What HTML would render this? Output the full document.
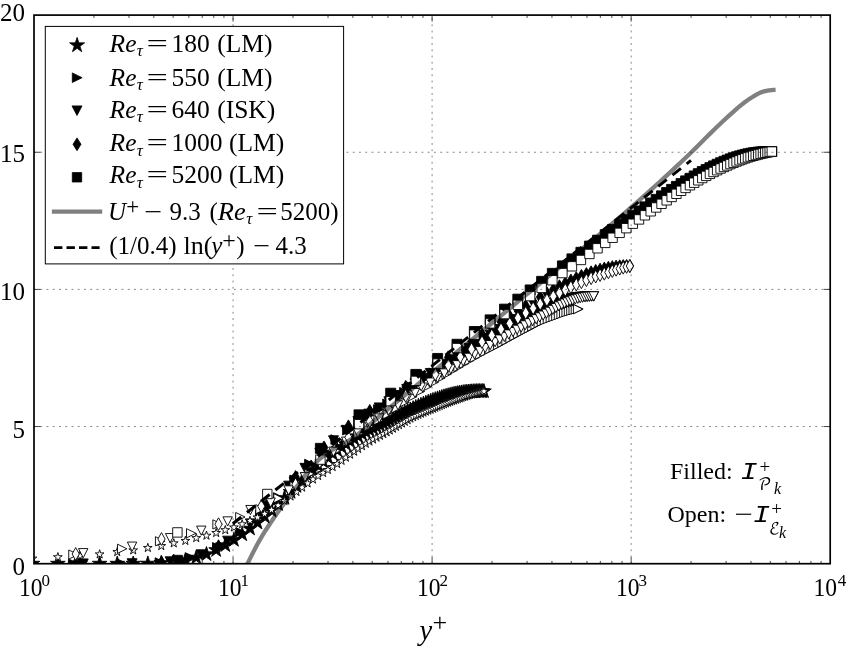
<!DOCTYPE html>
<html lang="en"><head><meta charset="utf-8"><title>Integrated production and dissipation</title>
<style>html,body{margin:0;padding:0;background:#fff}svg{display:block}</style></head>
<body>
<svg width="846" height="648" viewBox="0 0 846 648">
<rect width="846" height="648" fill="#fff"/>
<defs><clipPath id="ax"><rect x="34" y="15.1" width="796.2" height="548.6"/></clipPath><path id="f0" d="M0 -7.7L1.73 -2.38L7.32 -2.38L2.8 0.91L4.53 6.23L0 2.94L-4.53 6.23L-2.8 0.91L-7.32 -2.38L-1.73 -2.38Z"/><path id="o0" d="M0 -4.6L1.03 -1.42L4.37 -1.42L1.67 0.54L2.7 3.72L0 1.76L-2.7 3.72L-1.67 0.54L-4.37 -1.42L-1.03 -1.42Z"/><path id="f1" d="M-5 -4.8L5 0L-5 4.8Z"/><path id="o1" d="M-4.7 -4.6L4.7 0L-4.7 4.6Z"/><path id="f2" d="M-5 -4.8L5 -4.8L0 4.8Z"/><path id="o2" d="M-4.7 -4.6L4.7 -4.6L0 4.6Z"/><path id="f3" d="M0 -6.5L3.8 0L0 6.5L-3.8 0Z"/><path id="o3" d="M0 -6.4L3.6 0L0 6.4L-3.6 0Z"/><path id="f4" d="M-5 -5L5 -5L5 5L-5 5Z"/><path id="o4" d="M-4.7 -4.7L4.7 -4.7L4.7 4.7L-4.7 4.7Z"/></defs>
<g clip-path="url(#ax)">
<g fill="#000" stroke="#000" stroke-width="0.9"><use href="#f0" x="32.47" y="563.7"/><use href="#f0" x="57.89" y="563.7"/><use href="#f0" x="80.03" y="563.7"/><use href="#f0" x="99.65" y="563.7"/><use href="#f0" x="117.25" y="563.7"/><use href="#f0" x="133.22" y="563.7"/><use href="#f0" x="147.83" y="563.62"/><use href="#f0" x="161.28" y="563.01"/><use href="#f0" x="173.76" y="561.91"/><use href="#f0" x="185.38" y="560.16"/><use href="#f0" x="196.26" y="557.62"/><use href="#f0" x="206.48" y="554.25"/><use href="#f0" x="216.13" y="550.09"/><use href="#f0" x="225.25" y="545.25"/><use href="#f0" x="233.9" y="539.95"/><use href="#f0" x="242.13" y="534.37"/><use href="#f0" x="249.98" y="528.6"/><use href="#f0" x="257.47" y="522.69"/><use href="#f0" x="264.64" y="516.62"/><use href="#f0" x="271.52" y="510.44"/><use href="#f0" x="278.12" y="504.22"/><use href="#f0" x="284.47" y="498.05"/><use href="#f0" x="290.58" y="491.99"/><use href="#f0" x="296.47" y="486.12"/><use href="#f0" x="302.15" y="480.5"/><use href="#f0" x="307.64" y="475.19"/><use href="#f0" x="312.96" y="470.23"/><use href="#f0" x="318.1" y="465.67"/><use href="#f0" x="323.08" y="461.45"/><use href="#f0" x="327.91" y="457.44"/><use href="#f0" x="332.6" y="453.7"/><use href="#f0" x="337.16" y="450.26"/><use href="#f0" x="341.58" y="447.09"/><use href="#f0" x="345.88" y="444.13"/><use href="#f0" x="350.07" y="441.37"/><use href="#f0" x="354.15" y="438.75"/><use href="#f0" x="358.12" y="436.26"/><use href="#f0" x="361.99" y="433.94"/><use href="#f0" x="365.77" y="431.87"/><use href="#f0" x="369.45" y="430"/><use href="#f0" x="373.05" y="428.28"/><use href="#f0" x="376.56" y="426.64"/><use href="#f0" x="379.98" y="425.06"/><use href="#f0" x="383.34" y="423.48"/><use href="#f0" x="386.61" y="421.9"/><use href="#f0" x="389.81" y="420.26"/><use href="#f0" x="392.95" y="418.6"/><use href="#f0" x="396.01" y="416.98"/><use href="#f0" x="399.01" y="415.4"/><use href="#f0" x="401.95" y="413.88"/><use href="#f0" x="404.83" y="412.42"/><use href="#f0" x="407.65" y="411.01"/><use href="#f0" x="410.41" y="409.67"/><use href="#f0" x="413.12" y="408.38"/><use href="#f0" x="415.77" y="407.16"/><use href="#f0" x="418.38" y="405.99"/><use href="#f0" x="420.93" y="404.89"/><use href="#f0" x="423.43" y="403.84"/><use href="#f0" x="425.89" y="402.84"/><use href="#f0" x="428.3" y="401.89"/><use href="#f0" x="430.66" y="400.99"/><use href="#f0" x="432.99" y="400.14"/><use href="#f0" x="435.27" y="399.33"/><use href="#f0" x="437.51" y="398.57"/><use href="#f0" x="439.7" y="397.86"/><use href="#f0" x="441.86" y="397.19"/><use href="#f0" x="443.98" y="396.56"/><use href="#f0" x="446.07" y="395.97"/><use href="#f0" x="448.12" y="395.42"/><use href="#f0" x="450.13" y="394.91"/><use href="#f0" x="452.11" y="394.43"/><use href="#f0" x="454.05" y="394"/><use href="#f0" x="455.96" y="393.6"/><use href="#f0" x="457.84" y="393.23"/><use href="#f0" x="459.68" y="392.9"/><use href="#f0" x="461.5" y="392.6"/><use href="#f0" x="463.28" y="392.34"/><use href="#f0" x="465.04" y="392.11"/><use href="#f0" x="466.76" y="391.91"/><use href="#f0" x="468.46" y="391.75"/><use href="#f0" x="470.13" y="391.61"/><use href="#f0" x="471.77" y="391.5"/><use href="#f0" x="473.38" y="391.41"/><use href="#f0" x="474.97" y="391.34"/><use href="#f0" x="476.53" y="391.3"/><use href="#f0" x="478.07" y="391.27"/><use href="#f0" x="479.58" y="391.27"/><use href="#f0" x="481.07" y="391.27"/><use href="#f0" x="482.53" y="391.29"/><use href="#f0" x="483.96" y="391.31"/><use href="#f1" x="73.45" y="563.7"/><use href="#f1" x="122.18" y="563.68"/><use href="#f1" x="160.13" y="562.55"/><use href="#f1" x="191.21" y="557.87"/><use href="#f1" x="217.53" y="547.31"/><use href="#f1" x="240.34" y="532.16"/><use href="#f1" x="260.46" y="515.28"/><use href="#f1" x="278.47" y="497.46"/><use href="#f1" x="294.74" y="479.93"/><use href="#f1" x="309.6" y="464.04"/><use href="#f1" x="323.25" y="450.78"/><use href="#f1" x="335.88" y="439.52"/><use href="#f1" x="347.62" y="430.16"/><use href="#f1" x="358.6" y="422.02"/><use href="#f1" x="368.89" y="415.19"/><use href="#f1" x="378.58" y="409.43"/><use href="#f1" x="387.72" y="403.82"/><use href="#f1" x="396.39" y="397.94"/><use href="#f1" x="404.61" y="392.3"/><use href="#f1" x="412.44" y="386.97"/><use href="#f1" x="419.9" y="381.99"/><use href="#f1" x="427.03" y="377.31"/><use href="#f1" x="433.85" y="372.89"/><use href="#f1" x="440.38" y="368.69"/><use href="#f1" x="446.65" y="364.7"/><use href="#f1" x="452.68" y="360.9"/><use href="#f1" x="458.48" y="357.26"/><use href="#f1" x="464.06" y="353.81"/><use href="#f1" x="469.44" y="350.53"/><use href="#f1" x="474.64" y="347.41"/><use href="#f1" x="479.65" y="344.45"/><use href="#f1" x="484.5" y="341.63"/><use href="#f1" x="489.19" y="338.96"/><use href="#f1" x="493.73" y="336.42"/><use href="#f1" x="498.13" y="334.02"/><use href="#f1" x="502.4" y="331.73"/><use href="#f1" x="506.53" y="329.57"/><use href="#f1" x="510.54" y="327.53"/><use href="#f1" x="514.44" y="325.6"/><use href="#f1" x="518.22" y="323.8"/><use href="#f1" x="521.9" y="322.12"/><use href="#f1" x="525.47" y="320.56"/><use href="#f1" x="528.95" y="319.12"/><use href="#f1" x="532.33" y="317.79"/><use href="#f1" x="535.62" y="316.57"/><use href="#f1" x="538.82" y="315.46"/><use href="#f1" x="541.94" y="314.45"/><use href="#f1" x="544.97" y="313.54"/><use href="#f1" x="547.93" y="312.73"/><use href="#f1" x="550.81" y="312.01"/><use href="#f1" x="553.62" y="311.38"/><use href="#f1" x="556.35" y="310.84"/><use href="#f1" x="559.02" y="310.38"/><use href="#f1" x="561.62" y="310"/><use href="#f1" x="564.16" y="309.69"/><use href="#f1" x="566.63" y="309.45"/><use href="#f1" x="569.04" y="309.28"/><use href="#f1" x="571.39" y="309.15"/><use href="#f1" x="573.69" y="309.08"/><use href="#f1" x="575.93" y="309.04"/><use href="#f1" x="578.11" y="309.03"/><use href="#f2" x="83.22" y="563.7"/><use href="#f2" x="132.09" y="563.54"/><use href="#f2" x="170.13" y="561.6"/><use href="#f2" x="201.27" y="554.61"/><use href="#f2" x="227.63" y="540.96"/><use href="#f2" x="250.47" y="523.69"/><use href="#f2" x="270.62" y="505.01"/><use href="#f2" x="288.65" y="485.93"/><use href="#f2" x="304.95" y="468.15"/><use href="#f2" x="319.82" y="453.1"/><use href="#f2" x="333.49" y="440.57"/><use href="#f2" x="346.14" y="430.22"/><use href="#f2" x="357.9" y="421.36"/><use href="#f2" x="368.88" y="413.92"/><use href="#f2" x="379.19" y="407.71"/><use href="#f2" x="388.89" y="401.6"/><use href="#f2" x="398.05" y="395.26"/><use href="#f2" x="406.73" y="389.21"/><use href="#f2" x="414.97" y="383.53"/><use href="#f2" x="422.81" y="378.24"/><use href="#f2" x="430.29" y="373.25"/><use href="#f2" x="437.43" y="368.54"/><use href="#f2" x="444.26" y="364.06"/><use href="#f2" x="450.81" y="359.79"/><use href="#f2" x="457.1" y="355.7"/><use href="#f2" x="463.14" y="351.81"/><use href="#f2" x="468.95" y="348.1"/><use href="#f2" x="474.55" y="344.58"/><use href="#f2" x="479.95" y="341.22"/><use href="#f2" x="485.16" y="338.02"/><use href="#f2" x="490.2" y="334.96"/><use href="#f2" x="495.07" y="332.05"/><use href="#f2" x="499.78" y="329.27"/><use href="#f2" x="504.34" y="326.62"/><use href="#f2" x="508.75" y="324.09"/><use href="#f2" x="513.04" y="321.68"/><use href="#f2" x="517.19" y="319.4"/><use href="#f2" x="521.23" y="317.25"/><use href="#f2" x="525.14" y="315.23"/><use href="#f2" x="528.95" y="313.33"/><use href="#f2" x="532.65" y="311.55"/><use href="#f2" x="536.24" y="309.88"/><use href="#f2" x="539.74" y="308.33"/><use href="#f2" x="543.15" y="306.89"/><use href="#f2" x="546.46" y="305.56"/><use href="#f2" x="549.69" y="304.33"/><use href="#f2" x="552.83" y="303.21"/><use href="#f2" x="555.89" y="302.18"/><use href="#f2" x="558.87" y="301.26"/><use href="#f2" x="561.78" y="300.42"/><use href="#f2" x="564.62" y="299.68"/><use href="#f2" x="567.38" y="299.03"/><use href="#f2" x="570.08" y="298.45"/><use href="#f2" x="572.71" y="297.96"/><use href="#f2" x="575.27" y="297.55"/><use href="#f2" x="577.78" y="297.21"/><use href="#f2" x="580.22" y="296.93"/><use href="#f2" x="582.6" y="296.72"/><use href="#f2" x="584.93" y="296.56"/><use href="#f2" x="587.2" y="296.45"/><use href="#f2" x="589.41" y="296.39"/><use href="#f2" x="591.58" y="296.37"/><use href="#f2" x="593.69" y="296.36"/><use href="#f3" x="75.7" y="563.7"/><use href="#f3" x="161.49" y="562.32"/><use href="#f3" x="218.53" y="546.22"/><use href="#f3" x="261.31" y="513.27"/><use href="#f3" x="295.53" y="477.12"/><use href="#f3" x="324.03" y="447.48"/><use href="#f3" x="348.44" y="426.41"/><use href="#f3" x="369.78" y="411"/><use href="#f3" x="388.72" y="399.03"/><use href="#f3" x="405.73" y="386.89"/><use href="#f3" x="421.17" y="376"/><use href="#f3" x="435.29" y="366.26"/><use href="#f3" x="448.28" y="357.37"/><use href="#f3" x="460.31" y="349.15"/><use href="#f3" x="471.51" y="341.56"/><use href="#f3" x="481.97" y="334.54"/><use href="#f3" x="491.77" y="328"/><use href="#f3" x="501" y="321.9"/><use href="#f3" x="509.7" y="316.19"/><use href="#f3" x="517.93" y="310.85"/><use href="#f3" x="525.73" y="305.9"/><use href="#f3" x="533.14" y="301.32"/><use href="#f3" x="540.18" y="297.08"/><use href="#f3" x="546.9" y="293.18"/><use href="#f3" x="553.3" y="289.59"/><use href="#f3" x="559.42" y="286.31"/><use href="#f3" x="565.28" y="283.32"/><use href="#f3" x="570.89" y="280.61"/><use href="#f3" x="576.26" y="278.17"/><use href="#f3" x="581.41" y="275.98"/><use href="#f3" x="586.36" y="274.05"/><use href="#f3" x="591.12" y="272.36"/><use href="#f3" x="595.69" y="270.9"/><use href="#f3" x="600.08" y="269.66"/><use href="#f3" x="604.31" y="268.62"/><use href="#f3" x="608.38" y="267.79"/><use href="#f3" x="612.3" y="267.13"/><use href="#f3" x="616.08" y="266.64"/><use href="#f3" x="619.72" y="266.3"/><use href="#f3" x="623.22" y="266.09"/><use href="#f3" x="626.6" y="265.99"/><use href="#f3" x="629.86" y="265.97"/><use href="#f4" x="177.4" y="560.32"/><use href="#f4" x="267.3" y="506.08"/><use href="#f4" x="320.4" y="448.37"/><use href="#f4" x="359" y="414.85"/><use href="#f4" x="390.7" y="393.22"/><use href="#f4" x="415.84" y="374.42"/><use href="#f4" x="437.65" y="358.44"/><use href="#f4" x="457" y="344.28"/><use href="#f4" x="474.37" y="331.5"/><use href="#f4" x="490.13" y="319.87"/><use href="#f4" x="504.55" y="309.15"/><use href="#f4" x="517.84" y="299.17"/><use href="#f4" x="530.15" y="289.94"/><use href="#f4" x="541.63" y="281.36"/><use href="#f4" x="552.36" y="273.37"/><use href="#f4" x="562.44" y="265.9"/><use href="#f4" x="571.94" y="258.89"/><use href="#f4" x="580.93" y="252.3"/><use href="#f4" x="589.44" y="246.09"/><use href="#f4" x="597.53" y="240.22"/><use href="#f4" x="605.24" y="234.67"/><use href="#f4" x="612.59" y="229.42"/><use href="#f4" x="619.61" y="224.44"/><use href="#f4" x="626.34" y="219.71"/><use href="#f4" x="632.79" y="215.22"/><use href="#f4" x="638.99" y="210.95"/><use href="#f4" x="644.94" y="206.89"/><use href="#f4" x="650.67" y="203.03"/><use href="#f4" x="656.2" y="199.36"/><use href="#f4" x="661.52" y="195.87"/><use href="#f4" x="666.67" y="192.55"/><use href="#f4" x="671.64" y="189.4"/><use href="#f4" x="676.44" y="186.42"/><use href="#f4" x="681.09" y="183.58"/><use href="#f4" x="685.6" y="180.9"/><use href="#f4" x="689.96" y="178.35"/><use href="#f4" x="694.2" y="175.95"/><use href="#f4" x="698.3" y="173.69"/><use href="#f4" x="702.29" y="171.56"/><use href="#f4" x="706.16" y="169.55"/><use href="#f4" x="709.92" y="167.67"/><use href="#f4" x="713.57" y="165.92"/><use href="#f4" x="717.13" y="164.28"/><use href="#f4" x="720.59" y="162.76"/><use href="#f4" x="723.95" y="161.35"/><use href="#f4" x="727.23" y="160.05"/><use href="#f4" x="730.42" y="158.86"/><use href="#f4" x="733.52" y="157.78"/><use href="#f4" x="736.55" y="156.79"/><use href="#f4" x="739.5" y="155.91"/><use href="#f4" x="742.37" y="155.12"/><use href="#f4" x="745.18" y="154.42"/><use href="#f4" x="747.91" y="153.81"/><use href="#f4" x="750.57" y="153.28"/><use href="#f4" x="753.17" y="152.83"/><use href="#f4" x="755.71" y="152.46"/><use href="#f4" x="758.18" y="152.16"/><use href="#f4" x="760.59" y="151.92"/><use href="#f4" x="762.95" y="151.75"/><use href="#f4" x="765.24" y="151.63"/><use href="#f4" x="767.49" y="151.56"/><use href="#f4" x="769.67" y="151.52"/><use href="#f4" x="771.81" y="151.52"/></g>
<g fill="#fff" stroke="#000" stroke-width="0.9"><use href="#o0" x="32.47" y="558.56"/><use href="#o0" x="57.89" y="557.15"/><use href="#o0" x="80.03" y="555.84"/><use href="#o0" x="99.65" y="554.32"/><use href="#o0" x="117.25" y="552.03"/><use href="#o0" x="133.22" y="550.34"/><use href="#o0" x="147.83" y="547.89"/><use href="#o0" x="161.28" y="546"/><use href="#o0" x="173.76" y="543.27"/><use href="#o0" x="185.38" y="540.87"/><use href="#o0" x="196.26" y="538.05"/><use href="#o0" x="206.48" y="535.61"/><use href="#o0" x="216.13" y="532.95"/><use href="#o0" x="225.25" y="530.1"/><use href="#o0" x="233.9" y="527.37"/><use href="#o0" x="242.13" y="524.2"/><use href="#o0" x="249.98" y="520.82"/><use href="#o0" x="257.47" y="517.41"/><use href="#o0" x="264.64" y="513.84"/><use href="#o0" x="271.52" y="509.88"/><use href="#o0" x="278.12" y="505.49"/><use href="#o0" x="284.47" y="500.96"/><use href="#o0" x="290.58" y="496.4"/><use href="#o0" x="296.47" y="491.89"/><use href="#o0" x="302.15" y="487.52"/><use href="#o0" x="307.64" y="483.36"/><use href="#o0" x="312.96" y="479.47"/><use href="#o0" x="318.1" y="475.97"/><use href="#o0" x="323.08" y="472.9"/><use href="#o0" x="327.91" y="469.93"/><use href="#o0" x="332.6" y="466.98"/><use href="#o0" x="337.16" y="463.95"/><use href="#o0" x="341.58" y="460.77"/><use href="#o0" x="345.88" y="457.65"/><use href="#o0" x="350.07" y="454.63"/><use href="#o0" x="354.15" y="451.69"/><use href="#o0" x="358.12" y="448.84"/><use href="#o0" x="361.99" y="446.15"/><use href="#o0" x="365.77" y="443.72"/><use href="#o0" x="369.45" y="441.51"/><use href="#o0" x="373.05" y="439.48"/><use href="#o0" x="376.56" y="437.6"/><use href="#o0" x="379.98" y="435.81"/><use href="#o0" x="383.34" y="434.04"/><use href="#o0" x="386.61" y="432.28"/><use href="#o0" x="389.81" y="430.47"/><use href="#o0" x="392.95" y="428.64"/><use href="#o0" x="396.01" y="426.85"/><use href="#o0" x="399.01" y="425.11"/><use href="#o0" x="401.95" y="423.41"/><use href="#o0" x="404.83" y="421.73"/><use href="#o0" x="407.65" y="420.1"/><use href="#o0" x="410.41" y="418.57"/><use href="#o0" x="413.12" y="417.17"/><use href="#o0" x="415.77" y="415.93"/><use href="#o0" x="418.38" y="414.77"/><use href="#o0" x="420.93" y="413.67"/><use href="#o0" x="423.43" y="412.61"/><use href="#o0" x="425.89" y="411.6"/><use href="#o0" x="428.3" y="410.59"/><use href="#o0" x="430.66" y="409.59"/><use href="#o0" x="432.99" y="408.64"/><use href="#o0" x="435.27" y="407.72"/><use href="#o0" x="437.51" y="406.81"/><use href="#o0" x="439.7" y="405.92"/><use href="#o0" x="441.86" y="405.05"/><use href="#o0" x="443.98" y="404.21"/><use href="#o0" x="446.07" y="403.39"/><use href="#o0" x="448.12" y="402.6"/><use href="#o0" x="450.13" y="401.84"/><use href="#o0" x="452.11" y="401.11"/><use href="#o0" x="454.05" y="400.41"/><use href="#o0" x="455.96" y="399.75"/><use href="#o0" x="457.84" y="399.08"/><use href="#o0" x="459.68" y="398.42"/><use href="#o0" x="461.5" y="397.77"/><use href="#o0" x="463.28" y="397.14"/><use href="#o0" x="465.04" y="396.53"/><use href="#o0" x="466.76" y="395.95"/><use href="#o0" x="468.46" y="395.4"/><use href="#o0" x="470.13" y="394.89"/><use href="#o0" x="471.77" y="394.41"/><use href="#o0" x="473.38" y="393.96"/><use href="#o0" x="474.97" y="393.54"/><use href="#o0" x="476.53" y="393.14"/><use href="#o0" x="478.07" y="392.76"/><use href="#o0" x="479.58" y="392.39"/><use href="#o0" x="481.07" y="392.04"/><use href="#o0" x="482.53" y="391.69"/><use href="#o0" x="483.96" y="391.36"/><use href="#o1" x="73.45" y="554.55"/><use href="#o1" x="122.18" y="548.78"/><use href="#o1" x="160.13" y="541.28"/><use href="#o1" x="191.21" y="533.26"/><use href="#o1" x="217.53" y="524.4"/><use href="#o1" x="240.34" y="517.04"/><use href="#o1" x="260.46" y="509.19"/><use href="#o1" x="278.47" y="498.24"/><use href="#o1" x="294.74" y="486.17"/><use href="#o1" x="309.6" y="473.87"/><use href="#o1" x="323.25" y="461.59"/><use href="#o1" x="335.88" y="450.8"/><use href="#o1" x="347.62" y="441.65"/><use href="#o1" x="358.6" y="433.48"/><use href="#o1" x="368.89" y="426.33"/><use href="#o1" x="378.58" y="420.17"/><use href="#o1" x="387.72" y="414.24"/><use href="#o1" x="396.39" y="408.1"/><use href="#o1" x="404.61" y="402.18"/><use href="#o1" x="412.44" y="396.61"/><use href="#o1" x="419.9" y="391.45"/><use href="#o1" x="427.03" y="386.66"/><use href="#o1" x="433.85" y="382.21"/><use href="#o1" x="440.38" y="378.06"/><use href="#o1" x="446.65" y="374.15"/><use href="#o1" x="452.68" y="370.46"/><use href="#o1" x="458.48" y="366.95"/><use href="#o1" x="464.06" y="363.63"/><use href="#o1" x="469.44" y="360.5"/><use href="#o1" x="474.64" y="357.53"/><use href="#o1" x="479.65" y="354.71"/><use href="#o1" x="484.5" y="352.04"/><use href="#o1" x="489.19" y="349.55"/><use href="#o1" x="493.73" y="347.25"/><use href="#o1" x="498.13" y="344.98"/><use href="#o1" x="502.4" y="342.66"/><use href="#o1" x="506.53" y="340.35"/><use href="#o1" x="510.54" y="338.11"/><use href="#o1" x="514.44" y="335.98"/><use href="#o1" x="518.22" y="333.94"/><use href="#o1" x="521.9" y="331.97"/><use href="#o1" x="525.47" y="330.09"/><use href="#o1" x="528.95" y="328.28"/><use href="#o1" x="532.33" y="326.46"/><use href="#o1" x="535.62" y="324.69"/><use href="#o1" x="538.82" y="323.04"/><use href="#o1" x="541.94" y="321.54"/><use href="#o1" x="544.97" y="320.23"/><use href="#o1" x="547.93" y="319.06"/><use href="#o1" x="550.81" y="317.98"/><use href="#o1" x="553.62" y="316.97"/><use href="#o1" x="556.35" y="315.99"/><use href="#o1" x="559.02" y="315"/><use href="#o1" x="561.62" y="314.02"/><use href="#o1" x="564.16" y="313.08"/><use href="#o1" x="566.63" y="312.21"/><use href="#o1" x="569.04" y="311.43"/><use href="#o1" x="571.39" y="310.76"/><use href="#o1" x="573.69" y="310.15"/><use href="#o1" x="575.93" y="309.6"/><use href="#o1" x="578.11" y="309.09"/><use href="#o2" x="83.22" y="553.19"/><use href="#o2" x="132.09" y="546.65"/><use href="#o2" x="170.13" y="538.15"/><use href="#o2" x="201.27" y="530.67"/><use href="#o2" x="227.63" y="521.44"/><use href="#o2" x="250.47" y="510.04"/><use href="#o2" x="270.62" y="502.57"/><use href="#o2" x="288.65" y="490.43"/><use href="#o2" x="304.95" y="477.2"/><use href="#o2" x="319.82" y="463.75"/><use href="#o2" x="333.49" y="451.77"/><use href="#o2" x="346.14" y="441.7"/><use href="#o2" x="357.9" y="432.83"/><use href="#o2" x="368.88" y="425.07"/><use href="#o2" x="379.19" y="418.43"/><use href="#o2" x="388.89" y="411.99"/><use href="#o2" x="398.05" y="405.36"/><use href="#o2" x="406.73" y="399.03"/><use href="#o2" x="414.97" y="393.11"/><use href="#o2" x="422.81" y="387.64"/><use href="#o2" x="430.29" y="382.58"/><use href="#o2" x="437.43" y="377.88"/><use href="#o2" x="444.26" y="373.45"/><use href="#o2" x="450.81" y="369.25"/><use href="#o2" x="457.1" y="365.26"/><use href="#o2" x="463.14" y="361.47"/><use href="#o2" x="468.95" y="357.87"/><use href="#o2" x="474.55" y="354.45"/><use href="#o2" x="479.95" y="351.19"/><use href="#o2" x="485.16" y="348.07"/><use href="#o2" x="490.2" y="345.09"/><use href="#o2" x="495.07" y="342.24"/><use href="#o2" x="499.78" y="339.54"/><use href="#o2" x="504.34" y="336.95"/><use href="#o2" x="508.75" y="334.48"/><use href="#o2" x="513.04" y="332.1"/><use href="#o2" x="517.19" y="329.8"/><use href="#o2" x="521.23" y="327.56"/><use href="#o2" x="525.14" y="325.36"/><use href="#o2" x="528.95" y="323.24"/><use href="#o2" x="532.65" y="321.21"/><use href="#o2" x="536.24" y="319.27"/><use href="#o2" x="539.74" y="317.42"/><use href="#o2" x="543.15" y="315.61"/><use href="#o2" x="546.46" y="313.71"/><use href="#o2" x="549.69" y="311.79"/><use href="#o2" x="552.83" y="309.91"/><use href="#o2" x="555.89" y="308.11"/><use href="#o2" x="558.87" y="306.44"/><use href="#o2" x="561.78" y="304.92"/><use href="#o2" x="564.62" y="303.59"/><use href="#o2" x="567.38" y="302.41"/><use href="#o2" x="570.08" y="301.34"/><use href="#o2" x="572.71" y="300.37"/><use href="#o2" x="575.27" y="299.52"/><use href="#o2" x="577.78" y="298.8"/><use href="#o2" x="580.22" y="298.21"/><use href="#o2" x="582.6" y="297.71"/><use href="#o2" x="584.93" y="297.3"/><use href="#o2" x="587.2" y="296.96"/><use href="#o2" x="589.41" y="296.7"/><use href="#o2" x="591.58" y="296.5"/><use href="#o2" x="593.69" y="296.36"/><use href="#o3" x="75.7" y="553.99"/><use href="#o3" x="161.49" y="539"/><use href="#o3" x="218.53" y="524.19"/><use href="#o3" x="261.31" y="506.28"/><use href="#o3" x="295.53" y="484.32"/><use href="#o3" x="324.03" y="458.45"/><use href="#o3" x="348.44" y="437.38"/><use href="#o3" x="369.78" y="421.46"/><use href="#o3" x="388.72" y="408.6"/><use href="#o3" x="405.73" y="395.86"/><use href="#o3" x="421.17" y="384.48"/><use href="#o3" x="435.29" y="374.42"/><use href="#o3" x="448.28" y="365.32"/><use href="#o3" x="460.31" y="356.93"/><use href="#o3" x="471.51" y="349.2"/><use href="#o3" x="481.97" y="342.06"/><use href="#o3" x="491.77" y="335.41"/><use href="#o3" x="501" y="329.2"/><use href="#o3" x="509.7" y="323.39"/><use href="#o3" x="517.93" y="317.97"/><use href="#o3" x="525.73" y="312.94"/><use href="#o3" x="533.14" y="308.28"/><use href="#o3" x="540.18" y="303.97"/><use href="#o3" x="546.9" y="300"/><use href="#o3" x="553.3" y="296.35"/><use href="#o3" x="559.42" y="293.01"/><use href="#o3" x="565.28" y="289.94"/><use href="#o3" x="570.89" y="287.14"/><use href="#o3" x="576.26" y="284.58"/><use href="#o3" x="581.41" y="282.25"/><use href="#o3" x="586.36" y="280.15"/><use href="#o3" x="591.12" y="278.26"/><use href="#o3" x="595.69" y="276.57"/><use href="#o3" x="600.08" y="275.07"/><use href="#o3" x="604.31" y="273.75"/><use href="#o3" x="608.38" y="272.4"/><use href="#o3" x="612.3" y="271.06"/><use href="#o3" x="616.08" y="269.79"/><use href="#o3" x="619.72" y="268.67"/><use href="#o3" x="623.22" y="267.73"/><use href="#o3" x="626.6" y="266.87"/><use href="#o3" x="629.86" y="266.06"/><use href="#o4" x="177.4" y="532.43"/><use href="#o4" x="267.3" y="494.01"/><use href="#o4" x="320.4" y="459.62"/><use href="#o4" x="359" y="424.17"/><use href="#o4" x="390.7" y="401.17"/><use href="#o4" x="415.84" y="380.89"/><use href="#o4" x="437.65" y="363.57"/><use href="#o4" x="457" y="348.06"/><use href="#o4" x="474.37" y="334.63"/><use href="#o4" x="490.13" y="323.4"/><use href="#o4" x="504.55" y="314.06"/><use href="#o4" x="517.84" y="304.82"/><use href="#o4" x="530.15" y="296.1"/><use href="#o4" x="541.63" y="287.92"/><use href="#o4" x="552.36" y="280.24"/><use href="#o4" x="562.44" y="273.06"/><use href="#o4" x="571.94" y="266.31"/><use href="#o4" x="580.93" y="259.97"/><use href="#o4" x="589.44" y="253.97"/><use href="#o4" x="597.53" y="248.29"/><use href="#o4" x="605.24" y="242.9"/><use href="#o4" x="612.59" y="237.76"/><use href="#o4" x="619.61" y="232.86"/><use href="#o4" x="626.34" y="228.19"/><use href="#o4" x="632.79" y="223.72"/><use href="#o4" x="638.99" y="219.43"/><use href="#o4" x="644.94" y="215.29"/><use href="#o4" x="650.67" y="211.31"/><use href="#o4" x="656.2" y="207.48"/><use href="#o4" x="661.52" y="203.82"/><use href="#o4" x="666.67" y="200.32"/><use href="#o4" x="671.64" y="196.98"/><use href="#o4" x="676.44" y="193.81"/><use href="#o4" x="681.09" y="190.8"/><use href="#o4" x="685.6" y="187.94"/><use href="#o4" x="689.96" y="185.24"/><use href="#o4" x="694.2" y="182.7"/><use href="#o4" x="698.3" y="180.3"/><use href="#o4" x="702.29" y="178.04"/><use href="#o4" x="706.16" y="175.9"/><use href="#o4" x="709.92" y="173.89"/><use href="#o4" x="713.57" y="171.99"/><use href="#o4" x="717.13" y="170.21"/><use href="#o4" x="720.59" y="168.53"/><use href="#o4" x="723.95" y="166.95"/><use href="#o4" x="727.23" y="165.47"/><use href="#o4" x="730.42" y="164.07"/><use href="#o4" x="733.52" y="162.75"/><use href="#o4" x="736.55" y="161.52"/><use href="#o4" x="739.5" y="160.36"/><use href="#o4" x="742.37" y="159.29"/><use href="#o4" x="745.18" y="158.3"/><use href="#o4" x="747.91" y="157.39"/><use href="#o4" x="750.57" y="156.56"/><use href="#o4" x="753.17" y="155.81"/><use href="#o4" x="755.71" y="155.13"/><use href="#o4" x="758.18" y="154.49"/><use href="#o4" x="760.59" y="153.9"/><use href="#o4" x="762.95" y="153.35"/><use href="#o4" x="765.24" y="152.84"/><use href="#o4" x="767.49" y="152.37"/><use href="#o4" x="769.67" y="151.94"/><use href="#o4" x="771.81" y="151.53"/></g>
<path d="M240 579.14 L244.2 570.53 L248.4 561.84 L252.61 553.33 L256.81 545.24 L261.01 537.85 L265.21 531 L269.41 524.5 L273.61 518.29 L277.82 512.31 L282.02 506.52 L286.22 500.86 L290.42 495.27 L294.62 489.64 L298.82 483.91 L303.03 478.22 L307.23 472.71 L311.43 467.53 L315.63 462.82 L319.83 458.71 L324.03 455.3 L328.24 452.4 L332.44 449.85 L336.64 447.51 L340.84 445.25 L345.04 442.94 L349.24 440.44 L353.45 437.62 L357.65 434.51 L361.85 431.21 L366.05 427.75 L370.25 424.19 L374.45 420.56 L378.66 416.92 L382.86 413.3 L387.06 409.76 L391.26 406.29 L395.46 402.82 L399.66 399.35 L403.87 395.87 L408.07 392.4 L412.27 388.93 L416.47 385.46 L420.67 381.99 L424.87 378.52 L429.08 375.05 L433.28 371.58 L437.48 368.11 L441.68 364.64 L445.88 361.16 L450.08 357.69 L454.29 354.22 L458.49 350.75 L462.69 347.28 L466.89 343.81 L471.09 340.34 L475.29 336.87 L479.5 333.4 L483.7 329.92 L487.9 326.45 L492.1 322.98 L496.3 319.51 L500.5 316.04 L504.71 312.57 L508.91 309.1 L513.11 305.63 L517.31 302.16 L521.51 298.68 L525.71 295.21 L529.92 291.74 L534.12 288.27 L538.32 284.8 L542.52 281.33 L546.72 277.86 L550.92 274.39 L555.13 270.92 L559.33 267.47 L563.53 264.03 L567.73 260.59 L571.93 257.16 L576.13 253.72 L580.34 250.29 L584.54 246.84 L588.74 243.39 L592.94 239.92 L597.14 236.44 L601.34 232.93 L605.55 229.4 L609.75 225.84 L613.95 222.26 L618.15 218.65 L622.35 215.03 L626.55 211.39 L630.76 207.73 L634.96 204.05 L639.16 200.35 L643.36 196.63 L647.56 192.89 L651.76 189.13 L655.97 185.35 L660.17 181.54 L664.37 177.71 L668.57 173.82 L672.77 169.88 L676.97 165.92 L681.18 161.96 L685.38 157.99 L689.58 153.98 L693.78 149.92 L697.98 145.75 L702.18 141.51 L706.39 137.27 L710.59 133.1 L714.79 129.02 L718.99 124.99 L723.19 121.02 L727.39 117.16 L731.6 113.36 L735.8 109.59 L740 105.98 L742 104.35 L743.16 103.44 L744.32 102.56 L745.48 101.71 L746.63 100.87 L747.79 100.06 L748.95 99.26 L750.11 98.49 L751.27 97.74 L752.43 97.02 L753.59 96.32 L754.74 95.64 L755.9 94.99 L757.06 94.33 L758.22 93.7 L759.38 93.11 L760.54 92.58 L761.7 92.13 L762.86 91.75 L764.01 91.4 L765.17 91.07 L766.33 90.79 L767.49 90.56 L768.65 90.39 L769.81 90.27 L770.97 90.15 L772.12 90.05 L773.28 89.97 L774.44 89.92 L775.6 89.9" fill="none" stroke="#808080" stroke-width="4.3" style="mix-blend-mode:multiply"/>
<path d="M232.8 523.75 L691 160.42" fill="none" stroke="#000" stroke-width="3" stroke-dasharray="10.8 7.3"/>
</g>
<g fill="none" stroke="#858585" stroke-width="1" stroke-dasharray="1.9 4.35" style="mix-blend-mode:multiply"><path d="M233.05 563.7 V15.1"/><path d="M432.1 563.7 V15.1"/><path d="M631.15 563.7 V15.1"/><path d="M34 426.55 H830.2"/><path d="M34 289.4 H830.2"/><path d="M34 152.25 H830.2"/></g>
<path d="M93.92 563.7 v-2.8M93.92 15.1 v2.8M128.97 563.7 v-2.8M128.97 15.1 v2.8M153.84 563.7 v-2.8M153.84 15.1 v2.8M173.13 563.7 v-2.8M173.13 15.1 v2.8M188.89 563.7 v-2.8M188.89 15.1 v2.8M202.22 563.7 v-2.8M202.22 15.1 v2.8M213.76 563.7 v-2.8M213.76 15.1 v2.8M223.94 563.7 v-2.8M223.94 15.1 v2.8M292.97 563.7 v-2.8M292.97 15.1 v2.8M328.02 563.7 v-2.8M328.02 15.1 v2.8M352.89 563.7 v-2.8M352.89 15.1 v2.8M372.18 563.7 v-2.8M372.18 15.1 v2.8M387.94 563.7 v-2.8M387.94 15.1 v2.8M401.27 563.7 v-2.8M401.27 15.1 v2.8M412.81 563.7 v-2.8M412.81 15.1 v2.8M422.99 563.7 v-2.8M422.99 15.1 v2.8M492.02 563.7 v-2.8M492.02 15.1 v2.8M527.07 563.7 v-2.8M527.07 15.1 v2.8M551.94 563.7 v-2.8M551.94 15.1 v2.8M571.23 563.7 v-2.8M571.23 15.1 v2.8M586.99 563.7 v-2.8M586.99 15.1 v2.8M600.32 563.7 v-2.8M600.32 15.1 v2.8M611.86 563.7 v-2.8M611.86 15.1 v2.8M622.04 563.7 v-2.8M622.04 15.1 v2.8M691.07 563.7 v-2.8M691.07 15.1 v2.8M726.12 563.7 v-2.8M726.12 15.1 v2.8M750.99 563.7 v-2.8M750.99 15.1 v2.8M770.28 563.7 v-2.8M770.28 15.1 v2.8M786.04 563.7 v-2.8M786.04 15.1 v2.8M799.37 563.7 v-2.8M799.37 15.1 v2.8M810.91 563.7 v-2.8M810.91 15.1 v2.8M821.09 563.7 v-2.8M821.09 15.1 v2.8M233.05 563.7 v-6.5M233.05 15.1 v6.5M432.1 563.7 v-6.5M432.1 15.1 v6.5M631.15 563.7 v-6.5M631.15 15.1 v6.5M34 426.55 h6.5M830.2 426.55 h-6.5M34 289.4 h6.5M830.2 289.4 h-6.5M34 152.25 h6.5M830.2 152.25 h-6.5" fill="none" stroke="#333" stroke-width="0.9"/>
<rect x="34" y="15.1" width="796.2" height="548.6" fill="none" stroke="#000" stroke-width="1.7"/>
<rect x="45.3" y="26.4" width="298.3" height="237.5" fill="#fff" stroke="#000" stroke-width="1"/>
<path d="M77.1 37.4L78.87 42.86L84.61 42.86L79.97 46.23L81.74 51.69L77.1 48.32L72.46 51.69L74.23 46.23L69.59 42.86L75.33 42.86ZM72.3 72.9L82.1 77.7L72.3 82.5ZM72 105.9L82 105.9L77 115.5ZM77 137.9L81 144.3L77 150.7L73 144.3ZM72.3 172.6L81.7 172.6L81.7 182L72.3 182Z" fill="#000" stroke="#000" stroke-width="0.8"/>
<path d="M51.9 211.6H102.2" stroke="#808080" stroke-width="4.4" fill="none"/>
<path d="M54 247.7H99.6" stroke="#000" stroke-width="2.7" stroke-dasharray="8.4 4.1" fill="none"/>
<g font-family="'Liberation Serif', 'DejaVu Serif', serif" fill="#000">
<text transform="translate(109.6 51.6) scale(1.02 1)" font-size="25" font-style="italic">Re</text>
<text x="136.7" y="56.2" font-size="17" font-style="italic">τ</text>
<text transform="translate(146.4 51.6) scale(1.52 1)" font-size="25">=</text>
<text transform="translate(171.6 51.6) scale(1.02 1)" font-size="25">180</text>
<text transform="translate(217.2 51.6) scale(1.02 1)" font-size="25">(LM)</text>
<text transform="translate(109.6 85.6) scale(1.02 1)" font-size="25" font-style="italic">Re</text>
<text x="136.7" y="90.2" font-size="17" font-style="italic">τ</text>
<text transform="translate(146.4 85.6) scale(1.52 1)" font-size="25">=</text>
<text transform="translate(171.6 85.6) scale(1.02 1)" font-size="25">550</text>
<text transform="translate(217.2 85.6) scale(1.02 1)" font-size="25">(LM)</text>
<text transform="translate(109.6 117.8) scale(1.02 1)" font-size="25" font-style="italic">Re</text>
<text x="136.7" y="122.4" font-size="17" font-style="italic">τ</text>
<text transform="translate(146.4 117.8) scale(1.52 1)" font-size="25">=</text>
<text transform="translate(171.6 117.8) scale(1.02 1)" font-size="25">640</text>
<text transform="translate(217.2 117.8) scale(1.02 1)" font-size="25">(ISK)</text>
<text transform="translate(109.6 151) scale(1.02 1)" font-size="25" font-style="italic">Re</text>
<text x="136.7" y="155.6" font-size="17" font-style="italic">τ</text>
<text transform="translate(146.4 151) scale(1.52 1)" font-size="25">=</text>
<text transform="translate(171.6 151) scale(1.02 1)" font-size="25">1000</text>
<text transform="translate(228.9 151) scale(1.02 1)" font-size="25">(LM)</text>
<text transform="translate(109.6 183) scale(1.02 1)" font-size="25" font-style="italic">Re</text>
<text x="136.7" y="187.6" font-size="17" font-style="italic">τ</text>
<text transform="translate(146.4 183) scale(1.52 1)" font-size="25">=</text>
<text transform="translate(171.6 183) scale(1.02 1)" font-size="25">5200</text>
<text transform="translate(228.9 183) scale(1.02 1)" font-size="25">(LM)</text>
<text x="107.9" y="219.6" font-size="25" font-style="italic">U</text>
<text x="126.2" y="213.6" font-size="23">+</text>
<text transform="translate(144 219.6) scale(1.28 1)" font-size="25">−</text>
<text x="169.4" y="219.6" font-size="25">9.3</text>
<text x="209.6" y="219.6" font-size="25">(</text>
<text transform="translate(217.8 219.6) scale(1.06 1)" font-size="25" font-style="italic">Re</text>
<text x="246.3" y="224.2" font-size="17" font-style="italic">τ</text>
<text transform="translate(256.4 219.6) scale(1.52 1)" font-size="25">=</text>
<text x="280.2" y="219.6" font-size="25">5200)</text>
<text x="109.2" y="254.2" font-size="25">(1/0.4)</text>
<text transform="translate(183.6 254.2) scale(1.04 1)" font-size="25">ln(</text>
<text x="211.2" y="254.2" font-size="25" font-style="italic">y</text>
<text x="222.2" y="248.2" font-size="24">+</text>
<text x="236.2" y="254.2" font-size="25">)</text>
<text transform="translate(253 254.2) scale(1.2 1)" font-size="25">−</text>
<text x="275.4" y="254.2" font-size="25">4.3</text>
<text x="25" y="20.6" font-size="25" text-anchor="end">20</text>
<text x="25" y="161.8" font-size="25" text-anchor="end">15</text>
<text x="25" y="300" font-size="25" text-anchor="end">10</text>
<text x="25" y="437.5" font-size="25" text-anchor="end">5</text>
<text x="25" y="574.6" font-size="25" text-anchor="end">0</text>
<text transform="translate(19 595.6) scale(0.94 1)" font-size="25">10</text>
<text x="41.6" y="586.2" font-size="17">0</text>
<text transform="translate(217.9 595.6) scale(0.94 1)" font-size="25">10</text>
<text x="240.5" y="586.2" font-size="17">1</text>
<text transform="translate(416.9 595.6) scale(0.94 1)" font-size="25">10</text>
<text x="439.5" y="586.2" font-size="17">2</text>
<text transform="translate(616 595.6) scale(0.94 1)" font-size="25">10</text>
<text x="638.6" y="586.2" font-size="17">3</text>
<text transform="translate(813.6 595.6) scale(0.94 1)" font-size="25">10</text>
<text x="837.8" y="586.2" font-size="17">4</text>
<text x="419.4" y="640.4" font-size="28.5" font-style="italic">y</text>
<text x="432.4" y="631.4" font-size="26">+</text>
<text x="670" y="478.7" font-size="24">Filled:</text>
<text transform="translate(740.6 478.7) scale(1.18 1)" font-size="24" font-style="italic" font-family="'Liberation Mono', 'DejaVu Sans Mono', monospace">I</text>
<text x="759.6" y="472.6" font-size="19">+</text>
<text x="758" y="490" font-size="16" font-family="'DejaVu Math TeX Gyre', 'FreeSerif', 'DejaVu Sans', 'Liberation Serif', serif">𝒫</text>
<text x="774" y="494.4" font-size="16" font-style="italic">k</text>
<text x="667.5" y="521.5" font-size="24">Open:</text>
<text transform="translate(734.6 521.5) scale(1.36 1)" font-size="24">−</text>
<text transform="translate(753 521.5) scale(1.18 1)" font-size="24" font-style="italic" font-family="'Liberation Mono', 'DejaVu Sans Mono', monospace">I</text>
<text x="771.2" y="515.4" font-size="19">+</text>
<text x="769" y="533.5" font-size="16" font-family="'DejaVu Math TeX Gyre', 'FreeSerif', 'DejaVu Sans', 'Liberation Serif', serif">ℰ</text>
<text x="779" y="538" font-size="16" font-style="italic">k</text>
</g>
</svg>
</body></html>
